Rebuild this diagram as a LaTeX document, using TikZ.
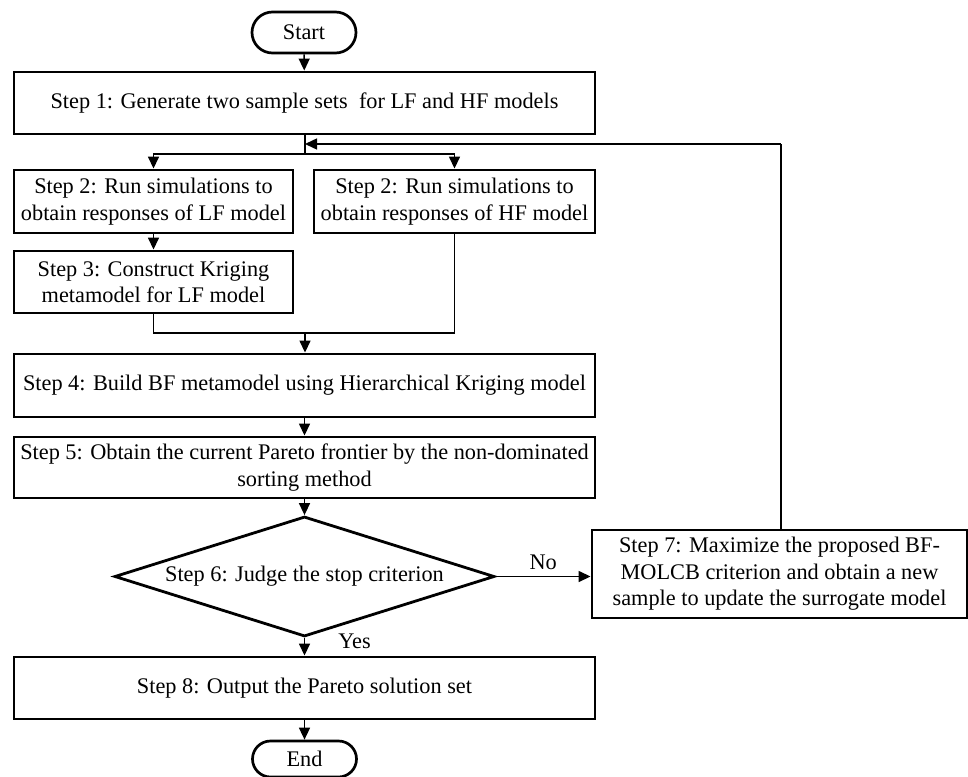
\documentclass[tikz,border=0pt]{standalone}
\usepackage{fontspec}
\setmainfont{Liberation Serif}
\usetikzlibrary{shapes.geometric,shapes.misc,arrows.meta}
\tikzset{
  stepbox/.style={draw, line width=2.9pt, rectangle, align=center, inner sep=0.5pt,
    font=\fontsize{22.3}{26.5}\selectfont},
  pill/.style={draw, line width=2.7pt, rounded rectangle, inner sep=0pt,
    minimum width=104pt, font=\fontsize{22.3}{26.5}\selectfont},
  decide/.style={draw, line width=2.8pt, diamond, shape aspect=3.17, inner sep=0pt,
    minimum width=380pt, minimum height=120pt, font=\fontsize{22.3}{26.5}\selectfont},
  conn/.style={line width=1.5pt},
  arr/.style={conn, -{Triangle[length=12pt,width=11pt]}},
  lbl/.style={font=\fontsize{22.3}{26.5}\selectfont, inner sep=0pt}
}
\begin{document}
\begin{tikzpicture}[x=1pt,y=-1pt]
\useasboundingbox (0,0) rectangle (968,776);
\node[pill, minimum height=41pt] (start) at (304,32.5) {Start};
\node[stepbox, minimum width=581pt, minimum height=62pt] (s1) at (304.5,103) {Step 1: Generate two sample sets\ \ for LF and HF models};
\node[stepbox, minimum width=279pt, minimum height=63pt] (s2a) at (153.5,201.5) {Step 2: Run simulations to\\obtain responses of LF model};
\node[stepbox, minimum width=281pt, minimum height=63pt] (s2b) at (454.5,201.5) {Step 2: Run simulations to\\obtain responses of HF model};
\node[stepbox, minimum width=279pt, minimum height=62pt] (s3) at (153.5,282) {Step 3: Construct Kriging\\metamodel for LF model};
\node[stepbox, minimum width=581pt, minimum height=63pt] (s4) at (304.5,385.5) {Step 4: Build BF metamodel using Hierarchical Kriging model};
\node[stepbox, minimum width=581pt, minimum height=61pt] (s5) at (304.5,467.5) {Step 5: Obtain the current Pareto frontier by the non-dominated\\sorting method};
\node[decide] (s6) at (304.5,576.5) {Step 6: Judge the stop criterion};
\node[stepbox, minimum width=375pt, minimum height=88pt] (s7) at (779.5,574) {Step 7: Maximize the proposed BF-\\MOLCB criterion and obtain a new\\sample to update the surrogate model};
\node[stepbox, minimum width=581pt, minimum height=62pt] (s8) at (304.5,688) {Step 8: Output the Pareto solution set};
\node[pill, minimum height=36pt] (end) at (304.5,759) {End};

\coordinate (split) at (305,154);
\coordinate (fb) at (305,144);
\coordinate (fbr) at (781,144);
\coordinate (merge) at (305,333);

\draw[arr] (start) -- (s1);
\draw[conn] (s1.south -| split) -- (split);
\draw[arr] (split) -| (s2a.north);
\draw[arr] (split) -| (s2b.north);
\draw[arr] (s2a) -- (s3);
\draw[conn] (s3.south) |- (merge) -| (s2b.south);
\draw[arr] (merge) -- (s4.north -| merge);
\draw[arr] (s4) -- (s5);
\draw[arr] (s5) -- (s6);
\draw[arr] (s6.east) -- (s6.east -| s7.west) node[lbl, midway, above=6pt] {No};
\draw[conn] (s7.north -| fbr) -- (fbr);
\draw[arr] (fbr) -- (fb);
\draw[arr] (s6.south) -- (s8.north) node[lbl, pos=0.2, anchor=west, xshift=33pt] {Yes};
\draw[arr] (s8) -- (end);
\end{tikzpicture}
\end{document}
